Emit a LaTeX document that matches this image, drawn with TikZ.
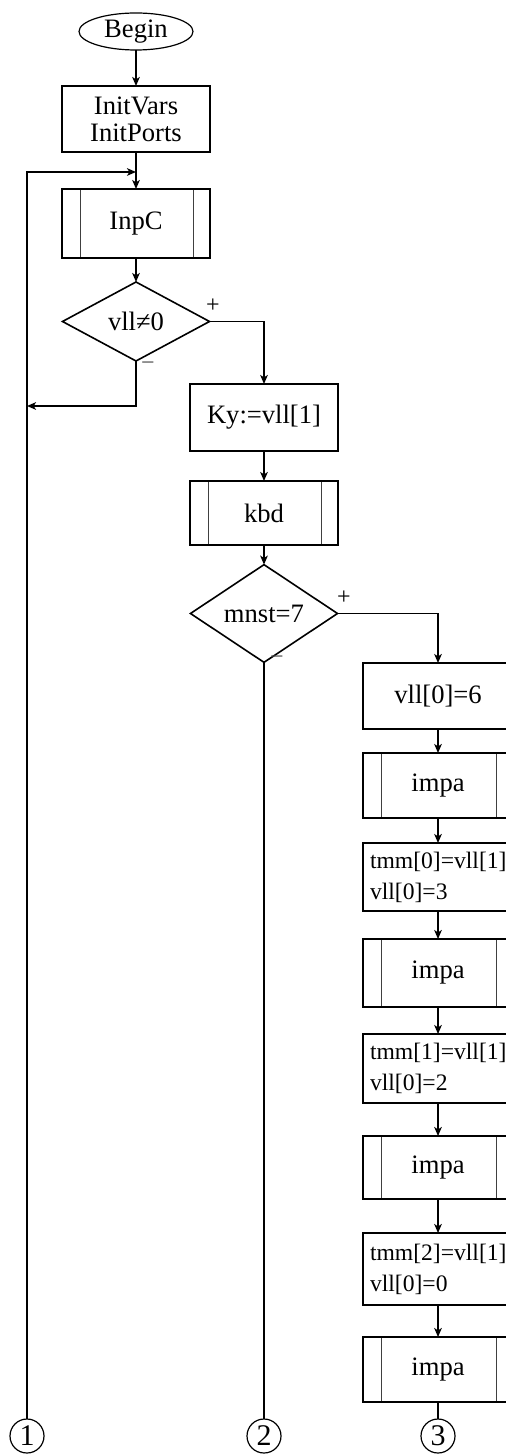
\documentclass[tikz,border=0pt]{standalone}
\usepackage{fontspec}
\setmainfont{Liberation Serif}
\usetikzlibrary{shapes.geometric,arrows.meta}
\begin{document}
\begin{tikzpicture}[x=0.5pt,y=-0.5pt,
  every node/.style={font=\fontsize{13.3}{13.5}\selectfont, inner sep=0pt, outer sep=0pt},
  box/.style={draw, line width=0.9pt, rectangle, minimum width=74pt, align=center},
  rbox/.style={draw, line width=0.9pt, rectangle, minimum width=75pt, text width=68pt, align=left,
     font=\fontsize{11.8}{15.5}\selectfont, inner sep=3.5pt},
  proc/.style={box, path picture={
     \draw[line width=0.5pt, black!75] ([xshift=9pt]path picture bounding box.north west) -- ([xshift=9pt]path picture bounding box.south west);
     \draw[line width=0.5pt, black!75] ([xshift=-8.5pt]path picture bounding box.north east) -- ([xshift=-8.5pt]path picture bounding box.south east);}},
  dec/.style={draw, line width=0.8pt, diamond, minimum width=73.5pt, minimum height=39.5pt},
  term/.style={draw, line width=0.6pt, ellipse, minimum width=57pt, minimum height=18.5pt},
  conn/.style={draw, line width=0.6pt, circle, minimum size=17pt, font=\fontsize{15}{15}\selectfont},
  arr/.style={line width=0.85pt, -{Stealth[length=4.5pt,width=3.8pt,inset=1.2pt]}},
  ln/.style={line width=0.85pt},
  lbl/.style={font=\fontsize{12}{12}\selectfont}
]
\useasboundingbox (0,0) rectangle (506,1454);

\node[term] (begin) at (136,31.5) {Begin};
\node[box, minimum height=33pt] (init) at (136,119) {InitVars\\InitPorts};
\node[proc, minimum height=34.5pt] (inpc) at (136,223.5) {InpC};
\node[dec] (d1) at (136,321.5) {vll≠0};
\node[box, minimum height=33.5pt] (ky) at (264,417.5) {Ky:=vll[1]};
\node[proc, minimum height=32pt] (kbd) at (264,513) {kbd};
\node[dec] (d2) at (264,613.5) {mnst=7};
\node[box, minimum width=75pt, minimum height=33pt] (v6) at (438,696) {vll[0]=6};
\node[proc, minimum width=75pt, minimum height=32.5pt] (i1) at (438,785.5) {impa};
\node[rbox, minimum height=34pt] (t0) at (438,877) {tmm[0]=vll[1]\\vll[0]=3};
\node[proc, minimum width=75pt, minimum height=34pt] (i2) at (438,973) {impa};
\node[rbox, minimum height=34.5pt] (t1) at (438,1068.5) {tmm[1]=vll[1]\\vll[0]=2};
\node[proc, minimum width=75pt, minimum height=31.5pt] (i3) at (438,1167.5) {impa};
\node[rbox, minimum height=36pt] (t2) at (438,1269) {tmm[2]=vll[1]\\vll[0]=0};
\node[proc, minimum width=75pt, minimum height=32.5pt] (i4) at (438,1369.5) {impa};

\node[conn] (c1) at (27,1436) {1};
\node[conn] (c2) at (264,1436) {2};
\node[conn] (c3) at (438,1436) {3};

\coordinate (j1) at (136,172);
\coordinate (j2) at (27,406);

\draw[arr] (begin) -- (init);
\draw[arr] (init) -- (inpc);
\draw[arr] (c1) |- (j1);
\draw[arr] (inpc) -- (d1);
\draw[arr] (d1.east) -| (ky.north);
\draw[arr] (d1.south) |- (j2);
\draw[arr] (ky) -- (kbd);
\draw[arr] (kbd) -- (d2);
\draw[arr] (d2.east) -| (v6.north);
\draw[ln] (d2.south) -- (c2);
\draw[arr] (v6) -- (i1);
\draw[arr] (i1) -- (t0);
\draw[arr] (t0) -- (i2);
\draw[arr] (i2) -- (t1);
\draw[arr] (t1) -- (i3);
\draw[arr] (i3) -- (t2);
\draw[arr] (t2) -- (i4);
\draw[ln] (i4) -- (c3);

\node[lbl] (p1) at (213,306) {+};
\node[lbl, text=black!70] (m1) at (148,366) {−};
\node[lbl] (p2) at (344,598) {+};
\node[lbl, text=black!70] (m2) at (277,660) {−};
\end{tikzpicture}
\end{document}
